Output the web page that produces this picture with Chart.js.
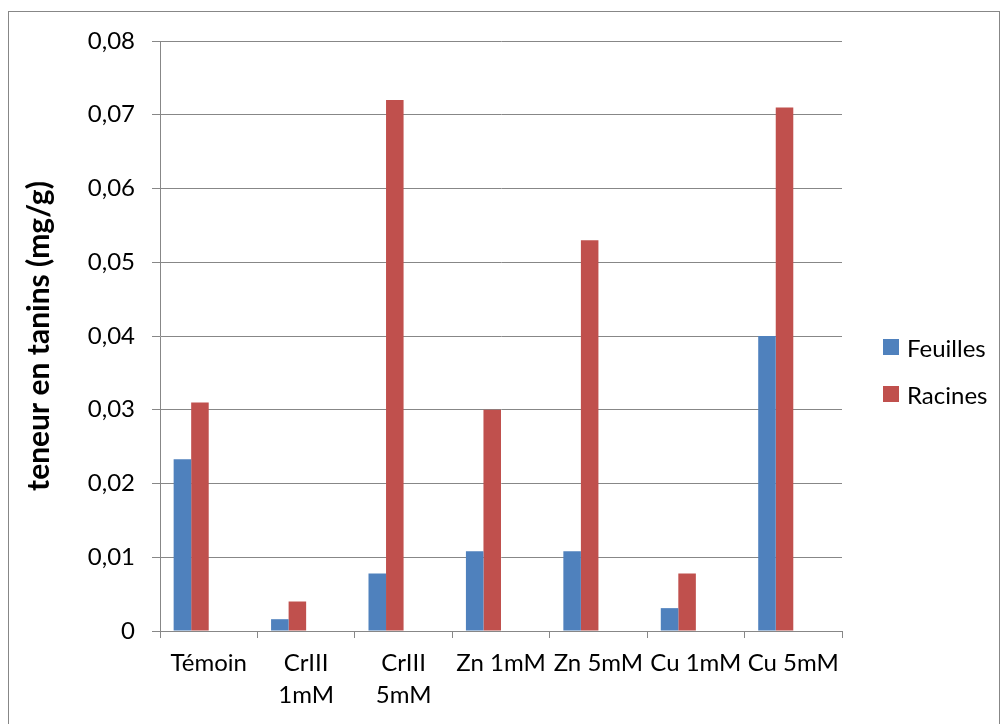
<!DOCTYPE html>
<html>
<head>
<meta charset="utf-8">
<script src="https://cdn.jsdelivr.net/npm/chart.js@4.4.1/dist/chart.umd.min.js"></script>
<style>
  html, body { margin: 0; padding: 0; background: #fff; }
  #wrap { position: relative; width: 1008px; height: 724px; }
  #legend { position: absolute; left: 883px; top: 331px; font-family: Lato, sans-serif; font-size: 24px; color: #000; }
  #legend div { display: flex; align-items: center; height: 32px; margin-bottom: 15px; }
  #legend span.box { width: 16px; height: 16px; margin-right: 8px; display: inline-block; }
</style>
</head>
<body>
<div id="wrap">
  <canvas id="chart" width="1008" height="724"></canvas>
  <div id="legend"></div>
</div>
<script>
const categories = ['Témoin', ['CrIII', '1mM'], ['CrIII', '5mM'], 'Zn 1mM', 'Zn 5mM', 'Cu 1mM', 'Cu 5mM'];
const feuilles = [0.0233, 0.0016, 0.0078, 0.0108, 0.0108, 0.0031, 0.0400];
const racines = [0.0310, 0.0040, 0.0720, 0.0300, 0.0530, 0.0078, 0.0710];
const yTicks = [0, 0.01, 0.02, 0.03, 0.04, 0.05, 0.06, 0.07, 0.08];

const GRID = '#878787';

const borderPlugin = {
    id: 'outerBorder',
    beforeDraw(chart) {
        const c = chart.ctx;
        c.save();
        c.fillStyle = '#fff';
        c.fillRect(0, 0, chart.width, chart.height);
        c.strokeStyle = '#878787';
        c.lineWidth = 1;
        c.strokeRect(8.5, 11.5, 991, 730);
        c.restore();
    }
};

const ctx = document.getElementById('chart').getContext('2d');
const chart = new Chart(ctx, {
    type: 'bar',
    data: {
        labels: categories,
        datasets: [{
            label: 'Feuilles',
            data: feuilles,
            backgroundColor: '#4F81BD'
        }, {
            label: 'Racines',
            data: racines,
            backgroundColor: '#C0504D'
        }, {
            // empty series kept by the original sheet, they only reserve room
            label: '',
            data: feuilles.map(() => null),
            backgroundColor: 'transparent'
        }, {
            label: '',
            data: feuilles.map(() => null),
            backgroundColor: 'transparent'
        }]
    },
    options: {
        responsive: false,
        animation: false,
        layout: { padding: { left: 8, right: 166, top: 41, bottom: 0 } },
        datasets: { bar: { categoryPercentage: 0.72, barPercentage: 1 } },
        plugins: {
            legend: { display: false },
            tooltip: { enabled: false }
        },
        scales: {
            x: {
                grid: { offset: true, drawOnChartArea: false, drawTicks: true, tickLength: 7, color: GRID },
                border: { color: GRID },
                ticks: {
                    font: { family: 'Lato', size: 24, lineHeight: 1.3 },
                    color: '#000',
                    maxRotation: 0,
                    autoSkip: false,
                    padding: 10
                },
                afterFit: (s) => { s.height = 93; }
            },
            y: {
                min: 0,
                max: 0.08,
                afterBuildTicks: (s) => { s.ticks = yTicks.map(v => ({ value: v })); },
                grid: { color: GRID, tickLength: 8 },
                border: { color: GRID },
                ticks: {
                    font: { family: 'Lato', size: 24 },
                    color: '#000',
                    padding: 17,
                    callback: (v) => v === 0 ? '0' : v.toFixed(2).replace('.', ',')
                },
                title: {
                    display: true,
                    text: 'teneur en tanins (mg/g)',
                    font: { family: 'Lato', size: 30, weight: 'bold' },
                    color: '#000',
                    padding: { top: 13, bottom: 0 }
                },
                afterFit: (s) => { s.width = 152; }
            }
        }
    },
    plugins: [borderPlugin]
});

const legendEl = document.getElementById('legend');
chart.data.datasets.slice(0, 2).forEach(ds => {
    const row = document.createElement('div');
    const box = document.createElement('span');
    box.className = 'box';
    box.style.background = ds.backgroundColor;
    row.appendChild(box);
    row.appendChild(document.createTextNode(ds.label));
    legendEl.appendChild(row);
});
</script>
</body>
</html>
